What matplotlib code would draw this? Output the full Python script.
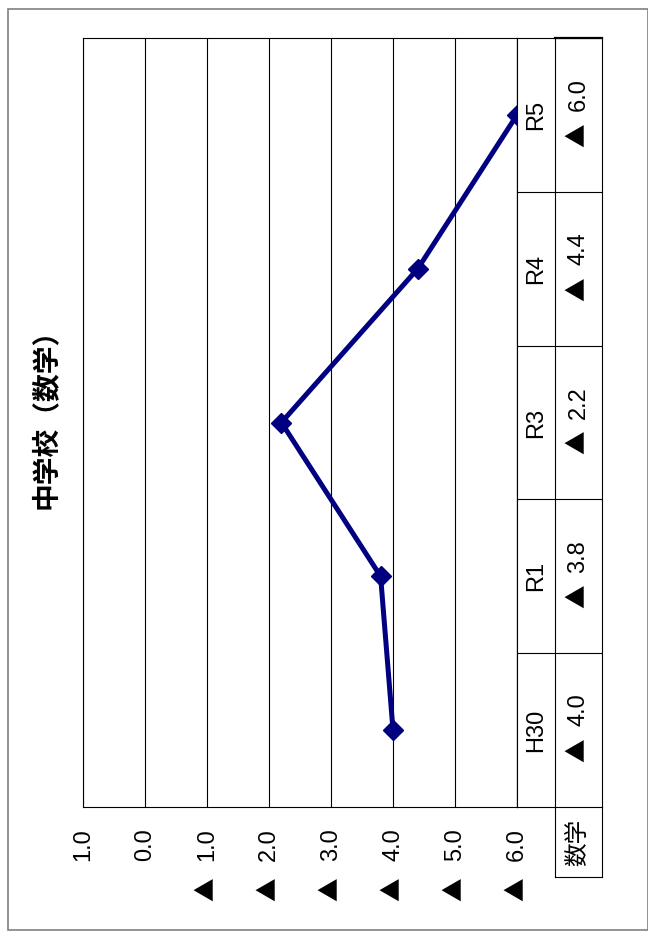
import matplotlib
matplotlib.use("Agg")
import matplotlib.pyplot as plt
from matplotlib.lines import Line2D
from matplotlib.patches import Rectangle
from matplotlib import transforms

plt.rcParams['font.family'] = ['Liberation Sans', 'Noto Sans CJK JP']

# 中学校 数学 の推移
title = "中学校（数学）"
subject = "数学"
years = ["H30", "R1", "R3", "R4", "R5"]
scores = [-4.0, -3.8, -2.2, -4.4, -6.0]
ticks = [1, 0, -1, -2, -3, -4, -5, -6]

MARK = "▲"
FS = 17


def num(v):
    return f"{abs(v):.1f}"


def put_value(axis, x, y, v, trans, num_dy, mark_dy, num_va="center"):
    # 数値は Liberation Sans、▲ は CJK フォントで描く
    t1 = transforms.offset_copy(trans, fig=fig, x=0, y=num_dy, units="dots")
    axis.text(x, y, num(v), rotation=90, ha="center", va=num_va,
              fontsize=FS, transform=t1, clip_on=False)
    if v < 0:
        t2 = transforms.offset_copy(trans, fig=fig, x=0, y=mark_dy, units="dots")
        axis.text(x, y, MARK, rotation=90, ha="center", va="center",
                  fontsize=FS, family="Noto Sans CJK JP", transform=t2,
                  clip_on=False)


W, H = 648, 932
fig = plt.figure(figsize=(W / 100, H / 100), dpi=100)

def box(l, t, r, b):
    return [l / W, 1 - b / H, (r - l) / W, (b - t) / H]

ax = fig.add_axes(box(83, 38, 517, 807))
pos = list(range(len(years)))
ax.plot(scores, pos, color="#000080", lw=3.6, marker="D", ms=10.5,
        mec="#000080", mfc="#000080", zorder=3, clip_on=False)
ax.set_xlim(1, -6)
ax.set_ylim(-0.5, len(years) - 0.5)
ax.set_xticks(ticks)
ax.set_xticklabels([])
ax.tick_params(axis="x", length=0)
ax.set_yticks([])
for v in ticks:
    ax.axvline(v, color="black", lw=0.8, zorder=1)
for s in ax.spines.values():
    s.set_color("black")
    s.set_linewidth(0.8)

# 軸ラベル（▲ 付き）
xt = transforms.blended_transform_factory(ax.transData, fig.transFigure)
for v in ticks:
    put_value(ax, v, 1 - 828 / H, v, xt, 0, -61, num_va="top")

# 右側のデータ表
tab = fig.add_axes(box(517, 38, 602, 807), sharey=ax)
tab.set_xlim(0, 85)
tab.set_xticks([])
tab.tick_params(axis="y", left=False, labelleft=False)
for s in tab.spines.values():
    s.set_color("black")
    s.set_linewidth(0.8)
tab.axvline(38, color="black", lw=0.8)
for i in range(len(years) - 1):
    tab.axhline(i + 0.5, color="black", lw=0.8)
tab.plot([38, 85], [len(years) - 0.5] * 2, color="black", lw=1.6, clip_on=False)
for i, (y, v) in enumerate(zip(years, scores)):
    tab.text(19, i, y, rotation=90, ha="center", va="center", fontsize=FS)
    put_value(tab, 61.5, i, v, tab.transData, 20, -20)

# 凡例セル
x0, x1, y0, y1 = 555 / W, 602 / W, 1 - 807 / H, 1 - 877 / H
for xs, ys in [([x0, x0], [y0, y1]), ([x1, x1], [y0, y1]), ([x0, x1], [y1, y1])]:
    fig.add_artist(Line2D(xs, ys, color="black", lw=0.8))
fig.text((x0 + x1) / 2, (y0 + y1) / 2, subject, rotation=90, ha="center",
         va="center", fontsize=FS)

fig.text(46 / W, 1 - 412 / H, title, rotation=90, ha="center", va="center",
         fontsize=20, fontweight="bold", family="Noto Sans CJK JP")

fig.add_artist(Rectangle((8 / W, 1 - 930 / H), 640 / W, 921 / H,
                         fill=False, edgecolor="#808080", lw=1.2))

fig.savefig("out.png", dpi=100)
